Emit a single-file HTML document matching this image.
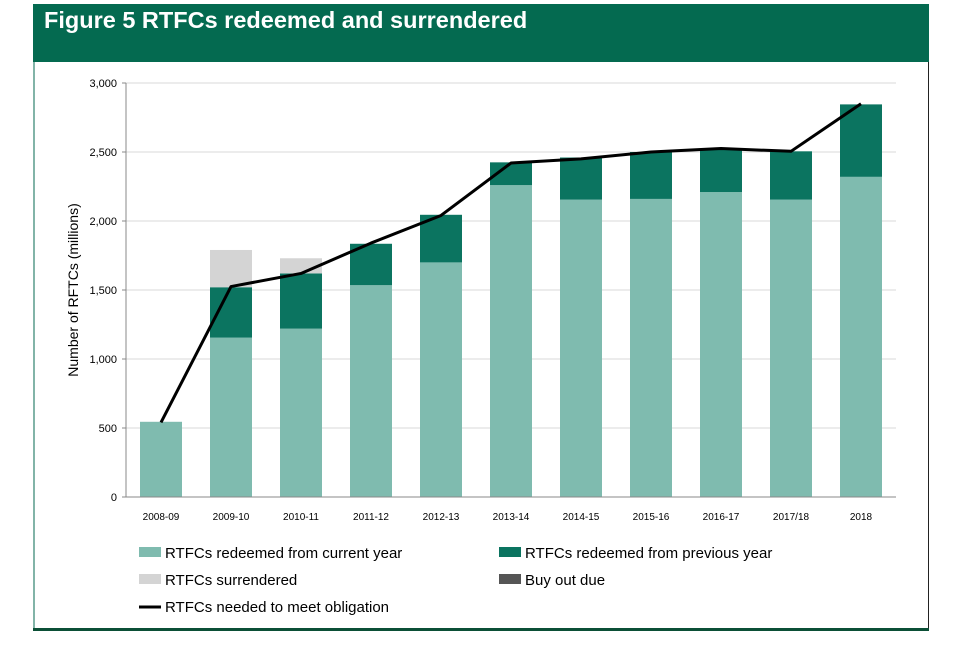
<!DOCTYPE html>
<html><head><meta charset="utf-8"><style>
body{margin:0;background:#fff;width:960px;height:640px;overflow:hidden;font-family:"Liberation Sans",sans-serif}
</style></head><body>
<svg width="960" height="640">
<rect x="33" y="4" width="896" height="58" fill="#046A50"/>
<text x="44" y="28" font-size="23.5" font-weight="bold" fill="#fff">Figure 5 RTFCs redeemed and surrendered</text>
<line x1="928.5" y1="62" x2="928.5" y2="629" stroke="#222" stroke-width="1"/>
<line x1="34" y1="62" x2="34" y2="629" stroke="#046A50" stroke-width="1"/>
<rect x="33" y="628" width="896" height="3" fill="#0B4F36"/>
<g id="grid"></g><g id="bars"></g><g id="line"></g><g id="axes"></g>
<text transform="translate(78,290) rotate(-90)" text-anchor="middle" font-size="14" fill="#000">Number of RFTCs (millions)</text>
<g font-size="15" fill="#000">
<rect x="139" y="547" width="22" height="10" fill="#7FBBAF"/>
<text x="165" y="558">RTFCs redeemed from current year</text>
<rect x="499" y="547" width="22" height="10" fill="#0B7460"/>
<text x="525" y="558">RTFCs redeemed from previous year</text>
<rect x="139" y="574" width="22" height="10" fill="#D4D4D4"/>
<text x="165" y="585">RTFCs surrendered</text>
<rect x="499" y="574" width="22" height="10" fill="#555"/>
<text x="525" y="585">Buy out due</text>
<line x1="139" y1="607" x2="161" y2="607" stroke="#000" stroke-width="3"/>
<text x="165" y="612">RTFCs needed to meet obligation</text>
</g>
</svg>
<script>
const categories=["2008-09","2009-10","2010-11","2011-12","2012-13","2013-14","2014-15","2015-16","2016-17","2017/18","2018"];
const currentYear=[545,1155,1220,1535,1700,2260,2155,2160,2210,2155,2320];
const previousYear=[0,365,400,300,345,165,305,340,315,350,525];
const surrendered=[0,270,110,0,0,0,0,0,0,0,0];
const obligation=[540,1525,1620,1840,2040,2420,2450,2500,2525,2505,2850];
const yTicks=[0,500,1000,1500,2000,2500,3000];
const NS="http://www.w3.org/2000/svg";
const x0=126,x1=896,y0=497,y1=83,yMax=3000;
const step=(x1-x0)/categories.length;
function xC(i){return x0+step*(i+0.5);}
function yV(v){return y0-(v/yMax)*(y0-y1);}
function mk(t,a,p){const e=document.createElementNS(NS,t);for(const k in a)e.setAttribute(k,a[k]);p.appendChild(e);return e;}
const grid=document.getElementById('grid'),bars=document.getElementById('bars'),line=document.getElementById('line'),axes=document.getElementById('axes');
yTicks.forEach(v=>{
 if(v>0){const g=mk('line',{x1:x0,x2:x1,y1:yV(v),y2:yV(v),stroke:'#D9D9D9','stroke-width':1},grid);
 
 }
 const t=mk('text',{x:x0-9,y:yV(v)+4,'text-anchor':'end','font-size':11,fill:'#000'},axes);t.textContent=v.toLocaleString('en-US');
 
 
 const tk=mk('line',{x1:x0-4,x2:x0,y1:yV(v),y2:yV(v),stroke:'#888'},axes);
 
 
});
const bw=42;
categories.forEach((c,i)=>{
 const cx=xC(i);let base=0;
 [[currentYear[i],'#7FBBAF','bar-current'],[previousYear[i],'#0B7460','bar-previous'],[surrendered[i],'#D4D4D4','bar-surrendered']].forEach(([v,col,nm])=>{
  if(v<=0)return;
  const r=mk('rect',{x:cx-bw/2,y:yV(base+v),width:bw,height:yV(base)-yV(base+v),fill:col},bars);
  
  
  base+=v;
 });
 const t=mk('text',{x:cx,y:y0+23,'text-anchor':'middle','font-size':10,fill:'#000'},axes);t.textContent=c;
 
 
});
const pl=mk('polyline',{points:obligation.map((v,i)=>xC(i)+','+yV(v)).join(' '),fill:'none',stroke:'#000','stroke-width':3,'stroke-linejoin':'round'},line);


const ya=mk('line',{x1:x0,x2:x0,y1:y1,y2:y0,stroke:'#888'},axes);


const xa=mk('line',{x1:x0,x2:x1,y1:y0,y2:y0,stroke:'#888'},axes);


</script>
</body></html>
